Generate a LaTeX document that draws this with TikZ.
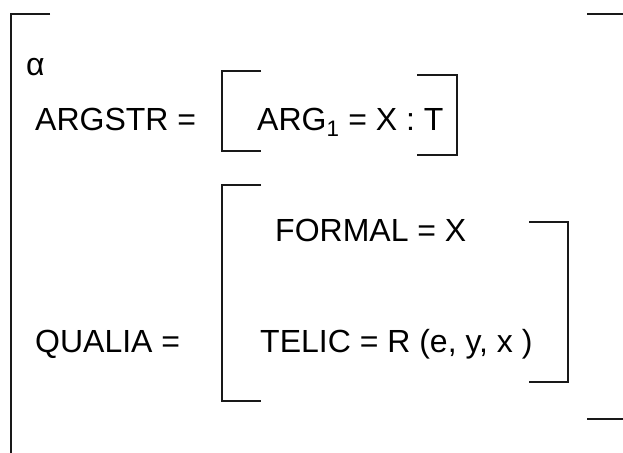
\documentclass[tikz,border=0pt]{standalone}
\usepackage{fontspec}
\setmainfont{Liberation Sans}

\begin{document}
\begin{tikzpicture}[
        x=1pt, y=-1pt,
        feat/.style={anchor=base west, inner sep=0pt,
                     font=\fontsize{32}{38}\selectfont},
        brk/.style={line width=1.7pt, black!90},
    ]

    \useasboundingbox (0,0) rectangle (623,452);

    % ---------- Feature labels -------------------------------------------
    \node[feat] (alpha)  at ( 26, 75) {α};
    \node[feat] (argstr) at ( 35,130) {ARGSTR =};
    \node[feat] (arg)    at (257,130) {ARG\textsubscript{1} = X : T};
    \node[feat] (formal) at (275,241) {FORMAL = X};
    \node[feat] (telic)  at (260,352) {TELIC = R (e, y, x )};
    \node[feat] (qualia) at ( 35,352) {QUALIA =};

    % ---------- Outer bracket --------------------------------------------
    \draw[brk] (50,14) -- (11,14) -- (11,470);
    \draw[brk] (587,14) -- (640,14);
    \draw[brk] (587,419) -- (640,419);

    % ---------- ARGSTR bracket -------------------------------------------
    \draw[brk] (261,71) -- (222,71) -- (222,151) -- (261,151);
    \draw[brk] (417,75) -- (457,75) -- (457,155) -- (417,155);

    % ---------- QUALIA bracket -------------------------------------------
    \draw[brk] (261,185) -- (222,185) -- (222,401) -- (261,401);
    \draw[brk] (529,222) -- (568,222) -- (568,382) -- (529,382);

\end{tikzpicture}
\end{document}
